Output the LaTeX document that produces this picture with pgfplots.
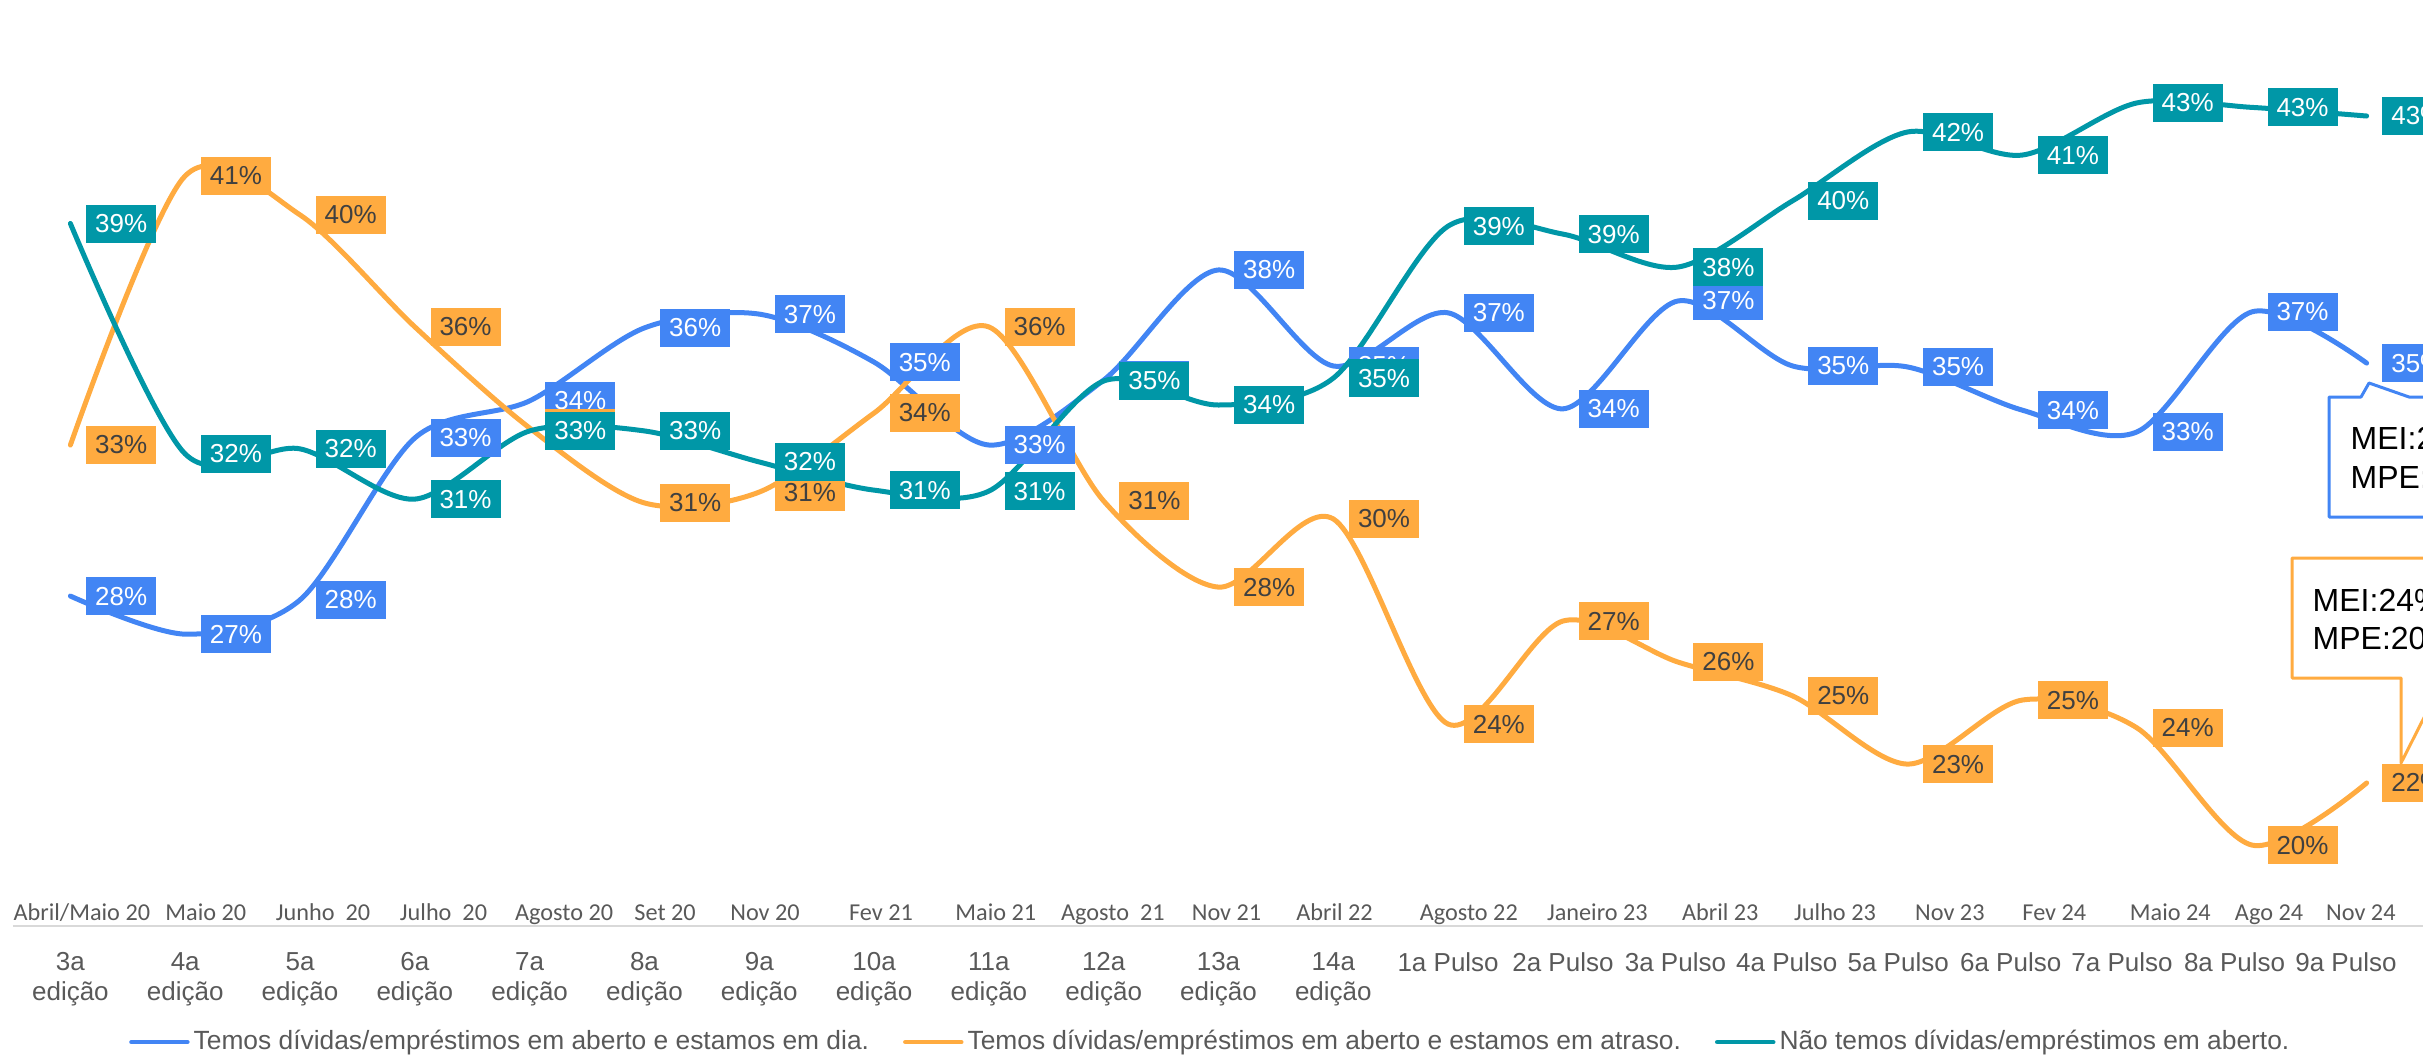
\documentclass[border=0pt]{standalone}
\usepackage{pgfplots}
\pgfplotsset{compat=1.18}
\usepackage{pgfplotstable}
\usepackage{fontspec}
\setmainfont{Liberation Sans}
\newfontfamily\calfont{Carlito}

\definecolor{cblue}{HTML}{4285F4}
\definecolor{corange}{HTML}{FFAB40}
\definecolor{cteal}{HTML}{0097A7}
\definecolor{axgray}{HTML}{D9D9D9}
\definecolor{tickgray}{HTML}{595959}
\definecolor{labdark}{HTML}{404040}

\pgfplotstableread{
x y lab
0 27.78 28
1 26.59 27
2 27.66 28
3 32.72 33
4 33.88 34
5 36.16 36
6 36.59 37
7 35.09 35
8 32.50 33
9 34.53 35
10 37.97 38
11 34.97 35
12 36.63 37
13 33.63 34
14 37.00 37
15 34.97 35
16 34.94 35
17 33.59 34
18 32.91 33
19 36.66 37
20 35.06 35
}\tblue

\pgfplotstableread{
x y lab
0 32.50 33
1 40.91 41
2 39.69 40
3 36.19 36
4 33.03 33
5 30.69 31
6 31.03 31
7 33.50 34
8 36.19 36
9 30.75 31
10 28.06 28
11 30.19 30
12 23.78 24
13 27.00 27
14 25.72 26
15 24.66 25
16 22.53 23
17 24.53 25
18 23.66 24
19 20.00 20
20 21.94 22
}\torange

\pgfplotstableread{
x y lab
0 39.42 39
1 32.22 32
2 32.38 32
3 30.81 31
4 32.94 33
5 32.94 33
6 31.97 32
7 31.09 31
8 31.06 31
9 34.50 35
10 33.75 34
11 34.59 35
12 39.34 39
13 39.09 39
14 38.06 38
15 40.13 40
16 42.28 42
17 41.56 41
18 43.19 43
19 43.05 43
20 42.78 43
}\tteal

\pgfplotsset{
  lab/.style={draw=none, forget plot, point meta=explicit symbolic,
    nodes near coords={\pgfplotspointmeta\%},
    every node near coord/.append style={anchor=west, xshift=0.15cm, fill=#1,
      inner sep=0pt, minimum width=0.70cm, minimum height=0.38cm,
      font=\fontsize{7.4}{8}\selectfont}},
}

\begin{document}
\begin{tikzpicture}
\begin{axis}[
  at={(0.13cm,1.29cm)}, anchor=south west,
  scale only axis, width=24.11cm, height=8.66cm,
  xmin=-0.5, xmax=20.5, ymin=17.47, ymax=44.53,
  clip=false,
  axis y line=none,
  axis x line*=bottom,
  x axis line style={draw=axgray, line width=0.02cm},
  major tick length=0pt,
  xtick={0,1,2,3,4,5,6,7,8,9,10,11,12.0,13.0,13.98,14.95,15.92,16.90,17.87,18.85,19.82},
  xticklabels={{3a\\edição},{4a\\edição},{5a\\edição},{6a\\edição},{7a\\edição},{8a\\edição},{9a\\edição},{10a\\edição},{11a\\edição},{12a\\edição},{13a\\edição},{14a\\edição},{1a Pulso},{2a Pulso},{3a Pulso},{4a Pulso},{5a Pulso},{6a Pulso},{7a Pulso},{8a Pulso},{9a Pulso}},
  xticklabel style={align=center, font=\fontsize{7.4}{8.6}\selectfont, text=tickgray},
  xticklabel shift=4pt,
  extra x ticks={0.10,1.18,2.20,3.25,4.30,5.18,6.05,7.06,8.06,9.08,10.07,11.01,12.18,13.30,14.37,15.37,16.37,17.28,18.29,19.15,19.95},
  extra x tick labels={{Abril/Maio 20},{Maio 20},{Junho\ \ 20},{Julho\ \ 20},{Agosto 20},{Set 20},{Nov 20},{Fev 21},{Maio 21},{Agosto\ \ 21},{Nov 21},{Abril 22},{Agosto 22},{Janeiro 23},{Abril 23},{Julho 23},{Nov 23},{Fev 24},{Maio 24},{Ago 24},{Nov 24}},
  extra x tick style={xticklabel shift=-1.7pt, xticklabel style={anchor=base, font=\calfont\fontsize{6.9}{8}\selectfont, text=tickgray}},
  legend columns=3,
  legend style={at={(0.497,-0.134)}, anchor=center, draw=none, fill=none,
    font=\fontsize{7.5}{9}\selectfont, text=tickgray, inner sep=0pt,
    /tikz/every even column/.append style={column sep=0.30cm},
    nodes={inner xsep=0.04cm}},
  legend image code/.code={\draw[#1, line width=0.045cm] (0cm,0cm) -- (0.56cm,0cm);},
]
\addplot[cblue, line width=0.05cm, smooth, tension=0.5, line cap=round] table[x=x,y=y]{\tblue};
\addlegendentry{Temos dívidas/empréstimos em aberto e estamos em dia.}
\addplot[corange, line width=0.05cm, smooth, tension=0.5, line cap=round] table[x=x,y=y]{\torange};
\addlegendentry{Temos dívidas/empréstimos em aberto e estamos em atraso.}
\addplot[cteal, line width=0.05cm, smooth, tension=0.5, line cap=round] table[x=x,y=y]{\tteal};
\addlegendentry{Não temos dívidas/empréstimos em aberto.}

\addplot[lab=cblue, every node near coord/.append style={text=white}] table[x=x,y=y,meta=lab]{\tblue};
\addplot[lab=corange, every node near coord/.append style={text=labdark}] table[x=x,y=y,meta=lab]{\torange};
\addplot[lab=cteal, every node near coord/.append style={text=white}] table[x=x,y=y,meta=lab]{\tteal};
\end{axis}

% callouts
\draw[cblue, line width=0.03cm, fill=white, line join=round] (24.6,5.38) -- (23.29,5.38) -- (23.29,6.58) -- (23.61,6.58) -- (23.69,6.72) -- (24.09,6.58) -- (24.6,6.58) -- cycle;
\node[anchor=west, inner sep=0pt, font=\fontsize{9.1}{10}\selectfont] at (23.50,6.17) {MEI:29\%};
\node[anchor=west, inner sep=0pt, font=\fontsize{9.1}{10}\selectfont] at (23.50,5.78) {MPE:38\%};

\draw[corange, line width=0.03cm, fill=white, line join=round] (24.6,3.77) -- (24.44,3.77) -- (24.01,2.92) -- (24.01,3.77) -- (22.92,3.77) -- (22.92,4.97) -- (24.6,4.97) -- cycle;
\node[anchor=west, inner sep=0pt, font=\fontsize{9.1}{10}\selectfont] at (23.12,4.55) {MEI:24\%};
\node[anchor=west, inner sep=0pt, font=\fontsize{9.1}{10}\selectfont] at (23.12,4.17) {MPE:20\%};

\pgfresetboundingbox
\useasboundingbox (0,0) rectangle (24.23,10.55);
\end{tikzpicture}
\end{document}
